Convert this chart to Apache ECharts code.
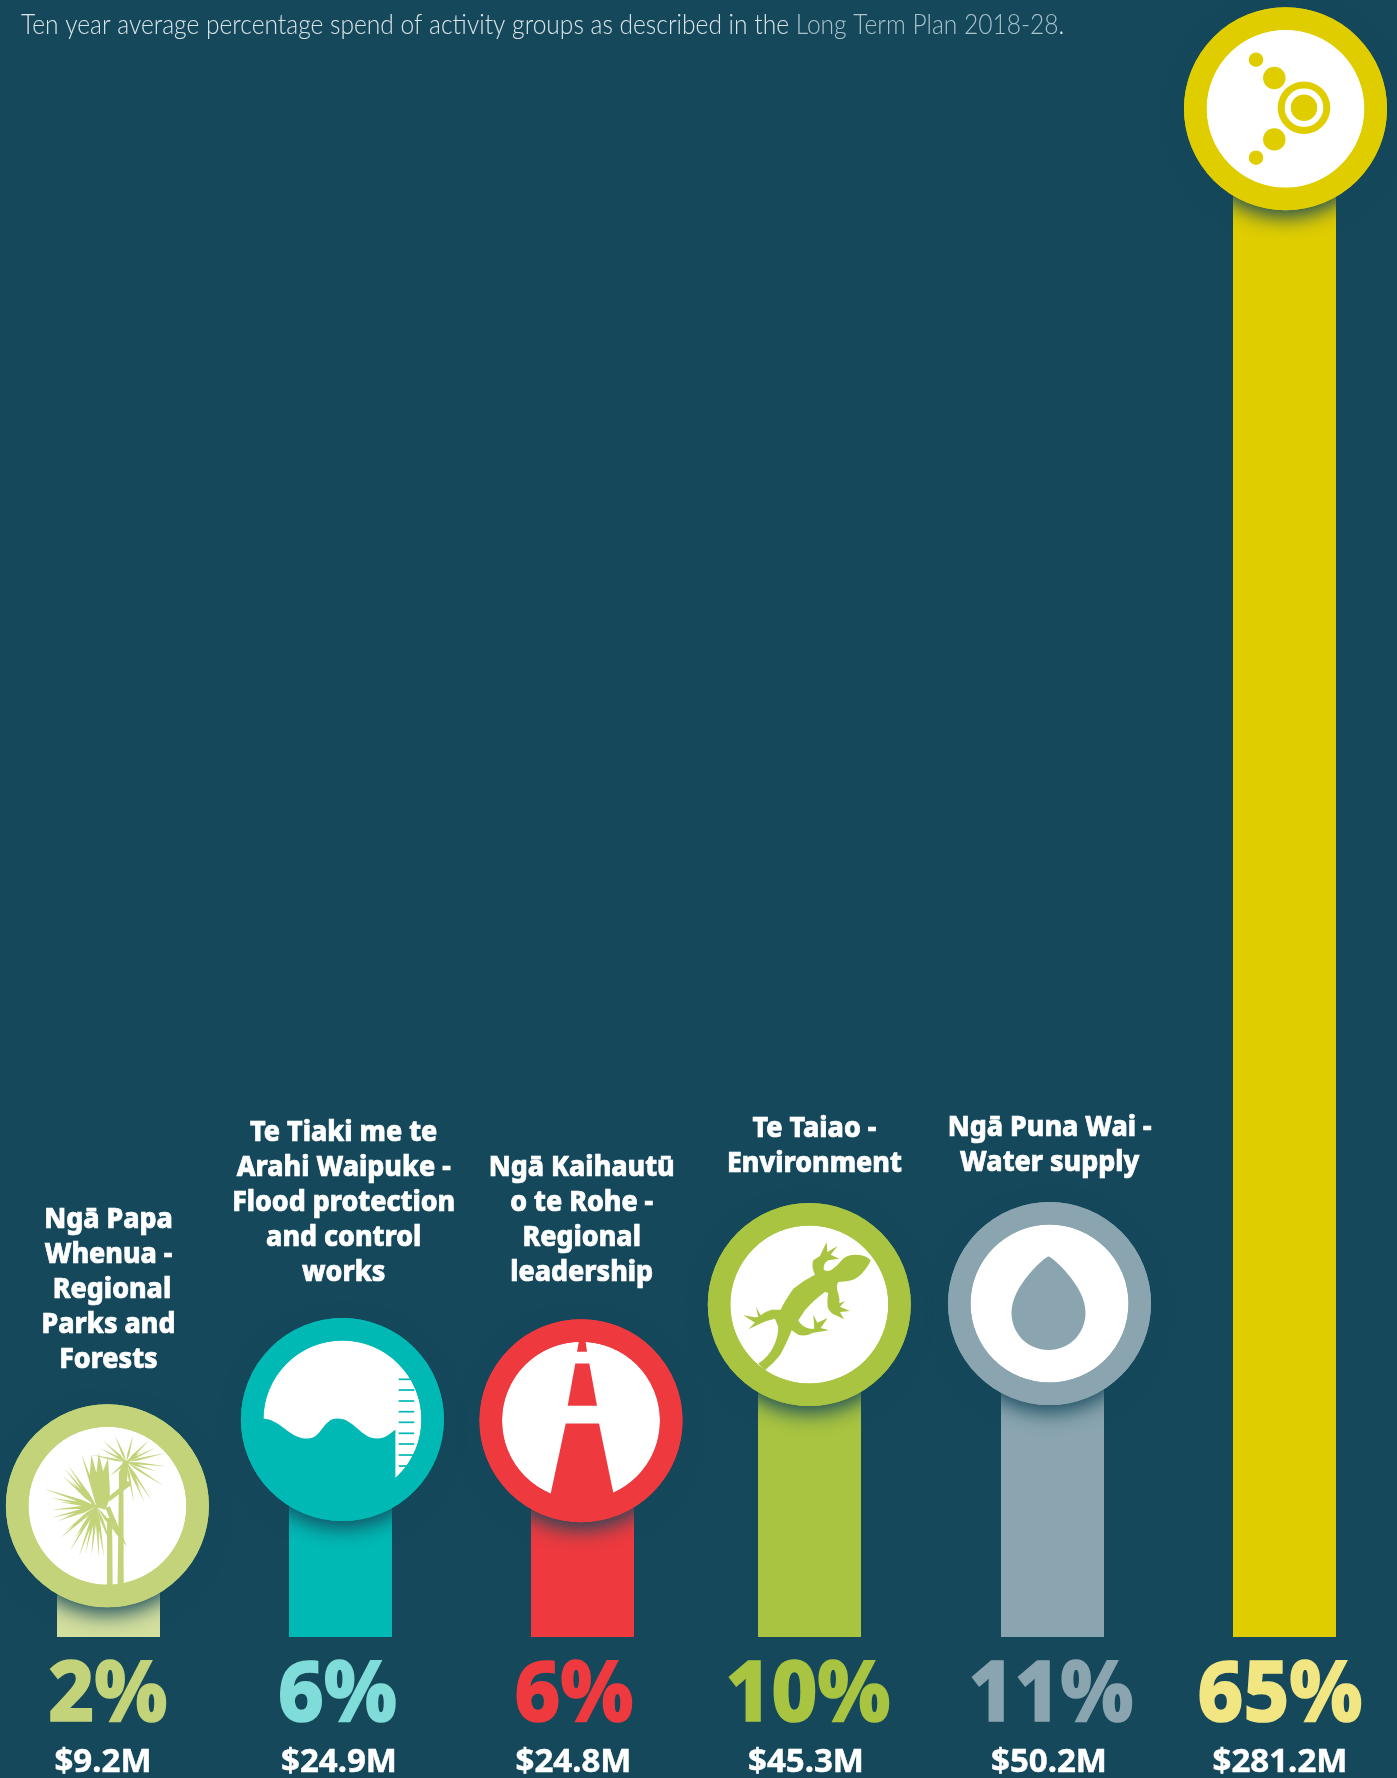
<!DOCTYPE html>
<html><head><meta charset="utf-8">
<style>html,body{margin:0;padding:0;background:#15485b}#c{width:1397px;height:1778px}</style>
<script src="https://cdn.jsdelivr.net/npm/echarts@6/dist/echarts.min.js"></script>
</head><body><div id="c"></div>
<script>
// ---- data ----
var categories = [
  'Ngā Papa\nWhenua -\n\u00a0Regional\nParks and\nForests',
  'Te Tiaki me te\nArahi Waipuke -\nFlood protection\nand control\nworks',
  'Ngā Kaihautū\no te Rohe -\nRegional\nleadership',
  'Te Taiao -\nEnvironment',
  'Ngā Puna Wai -\nWater supply',
  ''
];
var percentLabels = ['2%', '6%', '6%', '10%', '11%', '65%'];
var spendLabels = ['$9.2M', '$24.9M', '$24.8M', '$45.3M', '$50.2M', '$281.2M'];
var barLevels = [5.58, 9.25, 9.2, 14.14, 14.18, 65];
var iconNames = ['tree', 'water', 'road', 'lizard', 'drop', 'orbit'];

// ---- styles and layout ----
var BG = '#15485b';
var barColors = ['#d3df9e', '#00b9b5', '#ee3a3f', '#a8c440', '#8aa5b0', '#e0cd00'];
var ringColors = ['#c2d37a', '#00b9b5', '#ee3a3f', '#a8c440', '#8aa5b0', '#e0cd00'];
var pctColors = ['#c2d37a', '#7fdcd8', '#ee3a3f', '#a8c440', '#8aa5b0', '#f2e682'];
var barLeft = [57, 289, 531, 758, 1001, 1233];
var barW = 103, plotTop = 108.7, plotBottom = 1637;
var circleDx = [-1.1, 1.9, -1.5, -0.2, -3, 1];
var titleDx = [0, 3.2, -0.8, 4.9, -2.8, 0];
var titleGap = [128.7, 128.7, 129.7, 123.2, 123.2, 0];
var pctDx = [-0.7, -3, -8.5, -1.5, -1.5, -4.5];
var spendDx = [-5.5, -1.5, -9, -3.5, -3.5, -4.5];
var HEAVY = '"Noto Sans"';

function P(d, fill) { return { type: 'path', shape: { pathData: d }, style: { fill: fill } }; }
function C(cx, cy, r, fill) { return { type: 'circle', shape: { cx: cx, cy: cy, r: r }, style: { fill: fill } }; }
function R(x, y, w, h, fill) { return { type: 'rect', shape: { x: x, y: y, width: w, height: h }, style: { fill: fill } }; }

// blades of a cabbage tree rosette, in 3x icon space
function blades(cx, cy, tips, w) {
  var d = '';
  tips.forEach(function (t) {
    var dx = t[0] - cx, dy = t[1] - cy, l = Math.sqrt(dx * dx + dy * dy);
    var nx = -dy / l * w, ny = dx / l * w;
    var sx = cx + dx * 0.3, sy = cy + dy * 0.3;
    d += 'M' + cx + ' ' + cy + 'L' + (sx + nx) + ' ' + (sy + ny) + 'L' + t[0] + ' ' + t[1] + 'L' + (sx - nx) + ' ' + (sy - ny) + 'Z';
  });
  return d;
}
var treeTipsA = [[48,152],[70,180],[95,192],[72,215],[68,240],[88,250],[110,238],[98,300],[125,340],[140,300],[152,358],[172,345],[190,355],[213,362],[228,358],[255,335],[297,325],[108,90],[120,82],[105,115],[130,130],[112,280],[165,320]];
var treeTipsB = [[225,8],[260,-8],[315,-8],[365,5],[380,30],[412,45],[415,85],[408,145],[372,190],[350,195],[318,195],[190,50],[245,115],[215,30],[340,40],[385,100],[340,160]];

var icons = {
  tree: function (c) {
    return { scale: 1 / 3, ox: 238, oy: 203.4, children: [
      P(blades(205, 205, treeTipsA, 4.5), c),
      P(blades(295, 72, treeTipsB, 3.5), c),
      P('M205 205L160 48L185 110L190 50L205 105L212 45L225 100L240 60L245 150L245 182L232 215L195 205L170 165Z', c),
      P('M285 68L302 68L296 135L275 185L272 110Z', c),
      P('M300 128L310 140L245 190L240 178Z', c),
      P('M232 210L245 205L296 325L262 285Z', c),
      P('M237 240L252 240L254 470L237 470Z', c),
      P('M273 100L286 100L287 470L268 470Z', c)
    ] };
  },
  water: function (c) {
    var kids = [P('M-84 -1C-62 -3 -55 19 -35 19C-20 19 -20 -1 -5 -1C12 -1 18 19 35 19C43 19 48 14 53 10L53 80L0 88L-50 75L-84 20Z', c)];
    [-40.2, -29.5, -18.5, -7.8, 2.8, 13.8, 24.5, 35.5, 46.5].forEach(function (y) { kids.push(R(56.3, y - 0.85, 15.5, 1.7, c)); });
    return { scale: 1, ox: 0, oy: 0, children: kids };
  },
  road: function (c) {
    return { scale: 1, ox: 0, oy: 0, children: [
      P('M-2 -80L4.5 -80L6 -69L-4 -69Z', c),
      P('M-5.7 -57.3L8.3 -57.3L16 -15L-13.3 -15Z', c),
      P('M-15.3 2.7L18 2.7L36 90L-34 90Z', c)
    ] };
  },
  lizard: function (c) {
    return { scale: 1 / 3, ox: 238, oy: 217.5, children: [P(
      'M422 85Q418 100 395 125Q380 143 350 148L325 150Q316 165 325 185Q330 200 328 214L345 208L330 224L360 237L330 240L342 262L318 250Q300 245 293 225Q290 205 295 183L285 180Q250 205 225 235L205 265Q215 285 240 290L253 290L250 248L262 272L293 258L272 288L297 295L250 302Q225 315 205 308L185 295Q172 330 150 370Q130 395 105 415L85 395Q115 375 130 345Q145 315 145 285L135 260Q110 265 90 275L55 292L75 272L40 250L75 256L85 255L78 225L92 250Q105 238 125 233L152 233Q165 205 190 170Q220 145 255 128Q243 105 250 85L270 72L290 30L292 60L323 42L302 68L328 80L295 85Q278 95 282 113Q290 120 305 113Q325 100 335 85Q345 70 375 68Q410 68 422 85Z', c)] };
  },
  drop: function (c) {
    return { scale: 1, ox: 0, oy: 0, children: [P('M-1 -47C2 -47 36 -18 36 9C36 30 20 46.5 -1 46.5C-22 46.5 -38 30 -38 9C-38 -18 -4 -47 -1 -47Z', c)] };
  },
  orbit: function (c) {
    return { scale: 1, ox: 0, oy: 0, children: [
      C(-29.5, -49, 7.2, c), C(-11.2, -30.7, 11.2, c), C(-11.2, 30.7, 11.2, c), C(-29.5, 49, 7.2, c),
      C(18.5, -1, 26.3, c), C(18.5, -1, 19.3, '#fff'), C(18.5, -1, 13.2, c)
    ] };
  }
};

var pctFit = 0.955, spendFit = 1.0, titleFit = 0.955;

function renderColumn(i) {
  return function (params, api) {
    var pt = api.coord([0, api.value(1)]);
    var cx = pt[0] + circleDx[i], cy = pt[1];
    var ring = ringColors[i];
    var ic = icons[iconNames[i]](ring);
    var base = plotBottom;
    var kids = [
      { type: 'circle', shape: { cx: cx, cy: cy, r: 101.5 },
        style: { fill: ring, shadowBlur: 20, shadowOffsetY: 7, shadowColor: 'rgba(21,72,91,0.95)' } },
      { type: 'circle', shape: { cx: cx, cy: cy, r: 79 }, style: { fill: '#fff' } },
      { type: 'group', x: cx - ic.ox * ic.scale, y: cy - ic.oy * ic.scale, scaleX: ic.scale, scaleY: ic.scale, children: ic.children },
      { type: 'circle', shape: { cx: cx, cy: cy, r: 90.25 }, style: { fill: 'none', stroke: ring, lineWidth: 22.5 } },
      { type: 'text', x: pt[0] + pctDx[i], y: base + 60.5, scaleX: pctFit,
        style: { text: percentLabels[i], fill: pctColors[i], stroke: pctColors[i], lineWidth: 1.6, font: '800 83px ' + HEAVY, align: 'center', verticalAlign: 'middle' } },
      { type: 'text', x: pt[0] + spendDx[i], y: base + 125.4, scaleX: spendFit,
        style: { text: spendLabels[i], fill: '#fff', stroke: '#fff', lineWidth: 0.5, font: '700 33px ' + HEAVY, align: 'center', verticalAlign: 'middle' } }
    ];
    if (categories[i]) {
      kids.push({ type: 'text', x: pt[0] + titleDx[i], y: cy - titleGap[i], scaleX: titleFit,
        style: { text: categories[i], fill: '#fff', stroke: '#fff', lineWidth: 0.7, font: '800 28px ' + HEAVY, lineHeight: 35, align: 'center', verticalAlign: 'bottom' } });
    }
    return { type: 'group', children: kids };
  };
}

var grids = [], xAxes = [], yAxes = [], series = [];
categories.forEach(function (name, i) {
  grids.push({ left: barLeft[i], width: barW, top: plotTop, height: plotBottom - plotTop });
  xAxes.push({ type: 'category', gridIndex: i, data: [percentLabels[i]], show: false });
  yAxes.push({ type: 'value', gridIndex: i, min: 0, max: 65, show: false });
  series.push({ type: 'bar', xAxisIndex: i, yAxisIndex: i, data: [barLevels[i]], barWidth: '100%', silent: true, z: 2,
    itemStyle: { color: barColors[i] } });
  series.push({ type: 'custom', xAxisIndex: i, yAxisIndex: i, z: 3, silent: true, clip: false,
    encode: { x: 0, y: 1 }, data: [[0, barLevels[i]]], renderItem: renderColumn(i) });
});

var chart = echarts.init(document.getElementById('c'), null, { renderer: 'canvas' });
chart.setOption({
  backgroundColor: BG,
  animation: false,
  grid: grids, xAxis: xAxes, yAxis: yAxes, series: series,
  graphic: [{ type: 'text', left: 21, top: 12, scaleX: 0.91,
    style: { text: '{a|Ten year average percentage spend of activity groups as described in the }{b|Long Term Plan 2018-28}{a|.}',
      rich: { a: { fill: '#dbe5e9', font: '300 27px Lato' }, b: { fill: '#a9c2cc', font: '300 27px Lato' } } } }]
});
</script></body></html>
